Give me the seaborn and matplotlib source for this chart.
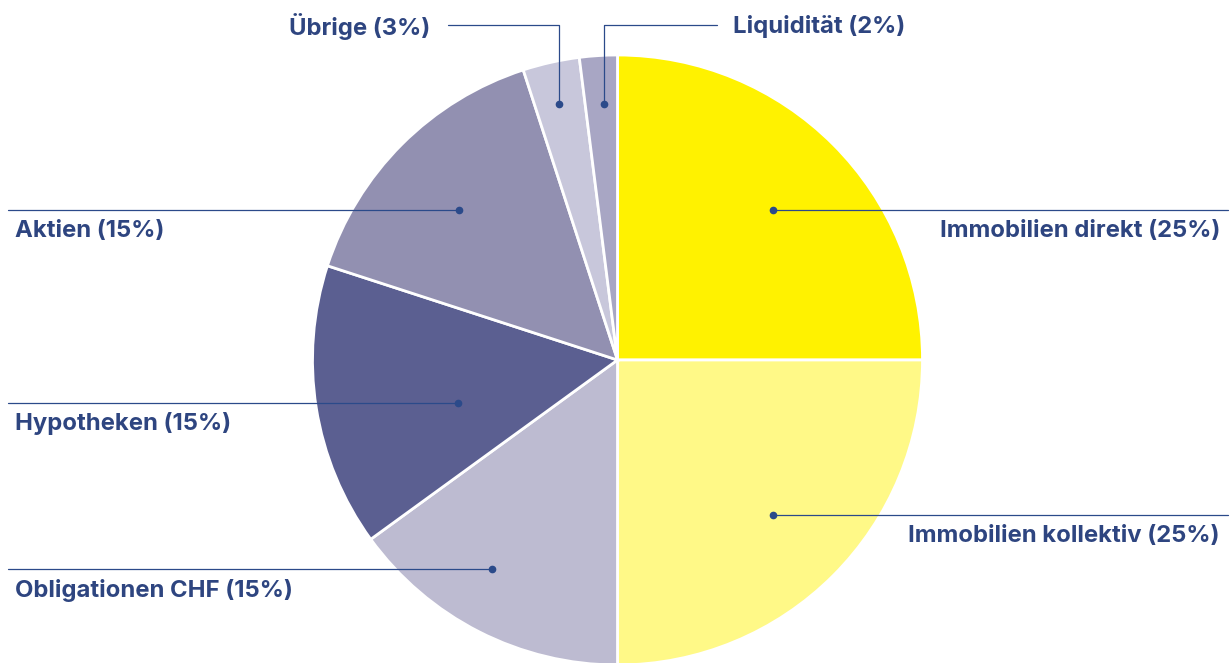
import numpy as np
import matplotlib
matplotlib.use("Agg")
import matplotlib.pyplot as plt
import seaborn as sns

# data
categories = ["Immobilien direkt", "Immobilien kollektiv", "Obligationen CHF",
              "Hypotheken", "Aktien", "Übrige", "Liquidität"]
shares = [25, 25, 15, 15, 15, 3, 2]
colors = ["#FFF200", "#FFF987", "#BDBBD1", "#5B5F91", "#9290B1", "#C8C7DB", "#A8A6C4"]

sns.set_theme(style="white")
plt.rcParams["font.family"] = ["Inter", "DejaVu Sans"]

W, H = 1231, 663
fig = plt.figure(figsize=(W / 100, H / 100), dpi=100)
ax = fig.add_axes([0, 0, 1, 1])

cx, cy, R = 617.5, H - 360, 305
wedges, _ = ax.pie(shares, colors=colors, startangle=90, counterclock=False,
                   center=(cx, cy), radius=R,
                   wedgeprops=dict(edgecolor="white", linewidth=2))
ax.set_xlim(0, W)
ax.set_ylim(0, H)
ax.set_aspect("equal")
ax.axis("off")

line_c = "#2B4A8A"
text_c = "#2E4580"

# (radius fraction, angle tweak, side)
layout = [(0.71, -1, "right"), (0.72, 0, "right"), (0.80, -4, "left"),
          (0.54, 6, "left"), (0.715, 1.5, "left"), (0.86, 0.2, "topleft"),
          (0.84, -0.5, "topright")]

for w, cat, pct, (rf, tw, side) in zip(wedges, categories, shares, layout):
    mid = np.deg2rad((w.theta1 + w.theta2) / 2 + tw)
    dx = cx + rf * R * np.cos(mid)
    dy = cy + rf * R * np.sin(mid)
    label = f"{cat} ({pct}%)"
    kw = dict(color=text_c, fontsize=17.2, fontweight="bold", va="center")
    if side == "right":
        ax.plot([dx, 1228], [dy, dy], color=line_c, lw=0.9)
        ax.text(1220, dy - 21, label, ha="right", **kw)
    elif side == "left":
        ax.plot([8, dx], [dy, dy], color=line_c, lw=0.9)
        ax.text(15, dy - 21, label, ha="left", **kw)
    elif side == "topleft":
        ty = H - 25
        ax.plot([dx, dx, 448], [dy, ty, ty], color=line_c, lw=0.9)
        ax.text(430, ty - 1, label, ha="right", **kw)
    else:
        ty = H - 25
        ax.plot([dx, dx, 717], [dy, ty, ty], color=line_c, lw=0.9)
        ax.text(733, ty - 1, label, ha="left", **kw)
    ax.plot(dx, dy, "o", color=line_c, markersize=4.5)

fig.savefig("out.png", dpi=100)
